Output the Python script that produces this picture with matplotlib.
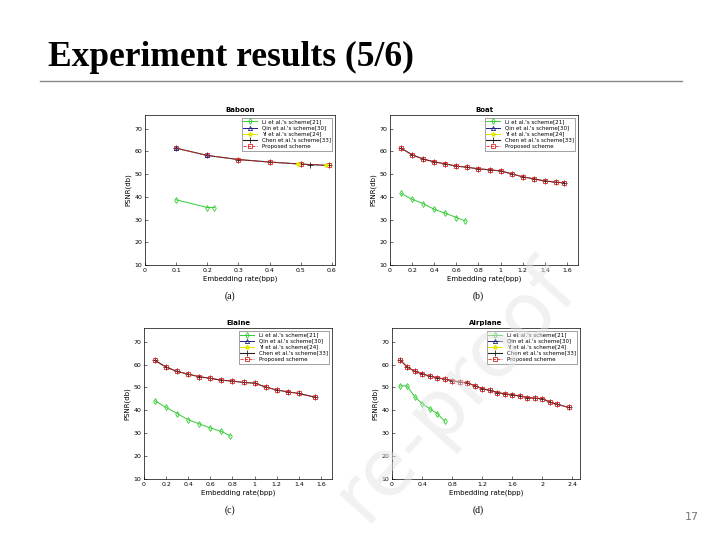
import matplotlib.pyplot as plt

# Baboon
bab_li_x = [0.1, 0.2, 0.222]
bab_li_y = [38.7, 35.3, 35.3]
bab_pr_x = [0.1, 0.2, 0.3, 0.4, 0.5, 0.59]
bab_pr_y = [61.4, 58.2, 56.4, 55.3, 54.4, 53.8]
bab_qin_x = [0.1, 0.2]
bab_qin_y = [61.4, 58.2]
bab_yi_x = [0.49, 0.58]
bab_yi_y = [54.4, 53.8]
bab_chen_x = [0.53]
bab_chen_y = [54.1]

# Boat
boat_li_x = [0.1, 0.2, 0.3, 0.4, 0.5, 0.6, 0.68]
boat_li_y = [41.5, 38.9, 37.0, 34.5, 32.8, 30.9, 29.4]
boat_pr_x = [0.1, 0.2, 0.3, 0.4, 0.5, 0.6, 0.7, 0.8, 0.9, 1.0, 1.1, 1.2, 1.3, 1.4, 1.5, 1.57]
boat_pr_y = [61.4, 58.5, 56.6, 55.4, 54.5, 53.5, 53.0, 52.3, 51.9, 51.4, 50.1, 48.8, 47.9, 47.0, 46.4, 46.2]

# Elaine
ela_li_x = [0.1, 0.2, 0.3, 0.4, 0.5, 0.6, 0.7, 0.78]
ela_li_y = [44.1, 41.3, 38.6, 35.9, 34.1, 32.3, 30.8, 28.8]
ela_pr_x = [0.1, 0.2, 0.3, 0.4, 0.5, 0.6, 0.7, 0.8, 0.9, 1.0, 1.1, 1.2, 1.3, 1.4, 1.55]
ela_pr_y = [61.8, 58.9, 57.0, 55.8, 54.7, 54.0, 53.2, 52.8, 52.2, 51.9, 50.2, 48.9, 48.1, 47.4, 45.7]

# Airplane
air_li_x = [0.1, 0.2, 0.3, 0.4, 0.5, 0.6, 0.7]
air_li_y = [50.7, 50.7, 46.0, 42.9, 40.8, 38.6, 35.3]
air_pr_x = [0.11, 0.2, 0.3, 0.4, 0.5, 0.6, 0.7, 0.8, 0.9, 1.0, 1.1, 1.2, 1.3, 1.4, 1.5,
            1.6, 1.7, 1.8, 1.9, 2.0, 2.1, 2.2, 2.35]
air_pr_y = [62.0, 59.0, 57.1, 56.0, 55.0, 54.3, 53.6, 53.0, 52.4, 52.0, 50.8, 49.5, 48.7,
            47.8, 47.2, 46.8, 46.3, 45.6, 45.3, 45.1, 43.6, 42.6, 41.3]

labels = ["Li et al.'s scheme[21]", "Qin et al.'s scheme[30]", "Yi et al.'s scheme[24]",
          "Chen et al.'s scheme[33]", "Proposed scheme"]

fig = plt.figure(figsize=(7.2, 5.4), dpi=100)

fig.text(48/720, 1 - 57/540, 'Experiment results (5/6)', family='Liberation Serif',
         fontweight='bold', fontsize=25.5, va='center', ha='left')
fig.add_artist(plt.Line2D([40/720, 682/720], [1 - 81/540, 1 - 81/540], color='#888888', lw=1))
fig.text(692/720, 1 - 517/540, '17', fontsize=8, color='#777777', ha='center', va='center')


def panel(rect, title, xmax, xticks, li, pr, extra=None):
    ax = fig.add_axes(rect)
    ax.plot(li[0], li[1], color='#33cc33', lw=0.7, marker='d', ms=3, mfc='none',
            mew=0.6, label=labels[0])
    ax.plot([], [], color='#202080', lw=0.7, marker='^', ms=3, mfc='none', mew=0.6, label=labels[1])
    ax.plot([], [], color='#e6e600', lw=0.7, marker='*', ms=3, label=labels[2])
    ax.plot(pr[0], pr[1], color='#222222', lw=0.8, marker='+', ms=4, mew=0.6, label=labels[3])
    ax.plot(pr[0], pr[1], color='#dd2222', lw=0.6, ls='--', marker='s', ms=2.5, mfc='none',
            mew=0.6, label=labels[4])
    if extra:
        for ex, ey, st in extra:
            ax.plot(ex, ey, **st)
    ax.set_xlim(0, xmax)
    ax.set_ylim(10, 76)
    ax.set_xticks(xticks)
    ax.set_xticklabels(['0' if t == 0 else ('%g' % t) for t in xticks])
    ax.set_yticks(range(10, 80, 10))
    ax.tick_params(direction='in', labelsize=4.5, length=2, width=0.4, pad=2)
    for s in ax.spines.values():
        s.set_linewidth(0.5)
    ax.set_title(title, fontsize=5, fontweight='bold', pad=2)
    ax.set_xlabel('Embedding rate(bpp)', fontsize=5, labelpad=2)
    ax.set_ylabel('PSNR(db)', fontsize=5, labelpad=2)
    leg = ax.legend(loc='upper right', fontsize=4, frameon=True, fancybox=False,
                    edgecolor='#333333', borderpad=0.3, handlelength=2.5, labelspacing=0.2)
    leg.get_frame().set_linewidth(0.4)
    return ax


bab_extra = [
    (bab_qin_x, bab_qin_y, dict(color='#202080', ls='none', marker='^', ms=3, mfc='none', mew=0.6)),
    (bab_yi_x, bab_yi_y, dict(color='#e6e600', ls='none', marker='*', ms=3)),
    (bab_chen_x, bab_chen_y, dict(color='#222222', ls='none', marker='+', ms=4, mew=0.6)),
]

panel([145/720, 1 - 265/540, 190/720, 150/540], 'Baboon', 0.61,
      [0, 0.1, 0.2, 0.3, 0.4, 0.5, 0.6], (bab_li_x, bab_li_y), (bab_pr_x, bab_pr_y), bab_extra)
panel([390/720, 1 - 265/540, 188/720, 150/540], 'Boat', 1.7,
      [0, 0.2, 0.4, 0.6, 0.8, 1.0, 1.2, 1.4, 1.6], (boat_li_x, boat_li_y), (boat_pr_x, boat_pr_y))
panel([144/720, 1 - 479/540, 188/720, 151/540], 'Elaine', 1.7,
      [0, 0.2, 0.4, 0.6, 0.8, 1.0, 1.2, 1.4, 1.6], (ela_li_x, ela_li_y), (ela_pr_x, ela_pr_y))
panel([392/720, 1 - 479/540, 188/720, 151/540], 'Airplane', 2.5,
      [0, 0.4, 0.8, 1.2, 1.6, 2.0, 2.4], (air_li_x, air_li_y), (air_pr_x, air_pr_y))

for x, y, t in [(230, 296, '(a)'), (478, 296, '(b)'), (230, 510, '(c)'), (478, 510, '(d)')]:
    fig.text(x/720, 1 - y/540, t, family='Liberation Serif', fontsize=7, ha='center', va='center')

# faint watermark, only the visible part
fig.text(455/720, 1 - 390/540, 're-proof', fontsize=58, color='#e4e4e4', alpha=0.5,
         rotation=48, ha='center', va='center', family='DejaVu Sans', zorder=10)

fig.savefig('out.png', dpi=100)
